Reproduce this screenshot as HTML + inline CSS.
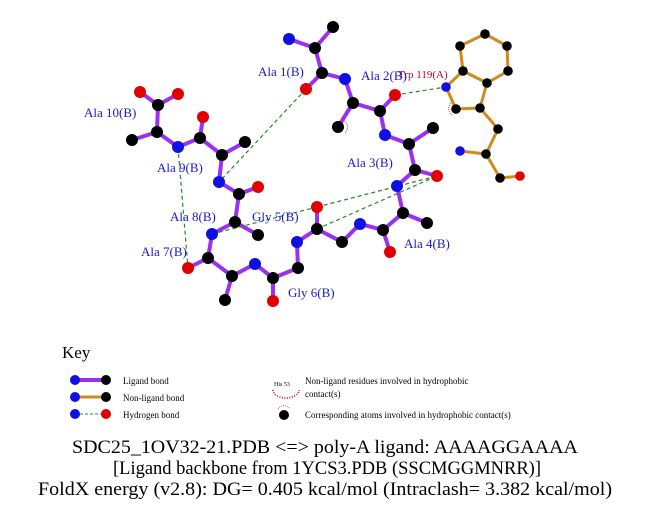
<!DOCTYPE html>
<html><head><meta charset="utf-8"><style>
html,body{margin:0;padding:0;background:#fff}
svg{display:block}
</style></head><body>
<svg width="651" height="511" viewBox="0 0 651 511" xmlns="http://www.w3.org/2000/svg" font-family="Liberation Serif, serif">
<g stroke="#9a30f0" stroke-width="4" stroke-linecap="round" fill="none">
<polyline points="140,92 158,105 178,94"/>
<polyline points="158,105 157,132 132,140"/>
<polyline points="157,132 178,147 200,138 203,117"/>
<polyline points="200,138 222,155 245,142"/>
<polyline points="222,155 219,182 239,194 258,187"/>
<polyline points="239,194 235,222 258,235"/>
<polyline points="235,222 212,234 208,258 188,268"/>
<polyline points="208,258 232,276 225,300"/>
<polyline points="232,276 255,264 273,278 273,301"/>
<polyline points="273,278 298,268 297,242 317,229 317,207"/>
<polyline points="317,229 342,242 360,224 383,230 390,252"/>
<polyline points="383,230 403,213 427,223"/>
<polyline points="403,213 397,186 415,170 437,176"/>
<polyline points="415,170 409,144 433,128"/>
<polyline points="409,144 385,135 380,111 395,95"/>
<polyline points="380,111 353,103 338,127"/>
<polyline points="353,103 345,79 322,73 306,89"/>
<polyline points="322,73 315,48 333,27"/>
<polyline points="315,48 289,39"/>
</g>
<g stroke="#d08b1c" stroke-width="3" fill="none" stroke-linejoin="round">
<polygon points="463,71 460,46 485,34 507,46 508,71 487,83"/>
<polyline points="463,71 446,87 456,109 480,108 487,83"/>
<polyline points="480,108 498,129 486,154 460,151"/>
<polyline points="486,154 500,178 520,176"/>
</g>
<g stroke="#2a8a2a" stroke-width="1.2" stroke-dasharray="4,3" fill="none">
<line x1="306" y1="89" x2="219" y2="182"/>
<line x1="395" y1="95" x2="446" y2="87"/>
<line x1="178" y1="147" x2="188" y2="268"/>
<line x1="212" y1="234" x2="317" y2="207"/>
<line x1="317" y1="207" x2="437" y2="176"/>
<line x1="317" y1="229" x2="437" y2="176"/>
</g>
<g stroke="#d44" stroke-width="1" fill="none" stroke-dasharray="1,1">
<path d="M343,120 a8,8 0 0 1 2,13" />
<path d="M452,102 a8,8 0 0 0 0,13" />
</g>
<g fill="#000">
<circle cx="158" cy="105" r="6"/><circle cx="157" cy="132" r="6"/><circle cx="132" cy="140" r="6"/>
<circle cx="200" cy="138" r="6"/><circle cx="222" cy="155" r="6"/><circle cx="245" cy="142" r="6"/>
<circle cx="239" cy="194" r="6"/><circle cx="235" cy="222" r="6"/><circle cx="258" cy="235" r="6"/>
<circle cx="208" cy="258" r="6"/><circle cx="232" cy="276" r="6"/><circle cx="225" cy="300" r="6"/>
<circle cx="273" cy="278" r="6"/><circle cx="298" cy="268" r="6"/><circle cx="317" cy="229" r="6"/>
<circle cx="342" cy="242" r="6"/><circle cx="383" cy="230" r="6"/><circle cx="403" cy="213" r="6"/>
<circle cx="427" cy="223" r="6"/><circle cx="415" cy="170" r="6"/><circle cx="409" cy="144" r="6"/>
<circle cx="433" cy="128" r="6"/><circle cx="380" cy="111" r="6"/><circle cx="353" cy="103" r="6"/>
<circle cx="338" cy="127" r="6"/><circle cx="322" cy="73" r="6"/><circle cx="315" cy="48" r="6"/>
<circle cx="333" cy="27" r="6"/>
<circle cx="463" cy="71" r="4.8"/><circle cx="460" cy="46" r="4.8"/><circle cx="485" cy="34" r="4.8"/>
<circle cx="507" cy="46" r="4.8"/><circle cx="508" cy="71" r="4.8"/><circle cx="487" cy="83" r="4.8"/>
<circle cx="480" cy="108" r="4.8"/><circle cx="456" cy="109" r="4.8"/><circle cx="498" cy="129" r="4.8"/>
<circle cx="486" cy="154" r="4.8"/><circle cx="500" cy="178" r="4.8"/>
</g>
<g fill="#1010e0">
<circle cx="178" cy="147" r="6"/><circle cx="219" cy="182" r="6"/><circle cx="212" cy="234" r="6"/>
<circle cx="255" cy="264" r="6"/><circle cx="297" cy="242" r="6"/><circle cx="360" cy="224" r="6"/>
<circle cx="397" cy="186" r="6"/><circle cx="385" cy="135" r="6"/><circle cx="345" cy="79" r="6"/>
<circle cx="289" cy="39" r="6"/><circle cx="446" cy="87" r="4.8"/><circle cx="460" cy="151" r="4.8"/>
</g>
<g fill="#e00000">
<circle cx="140" cy="92" r="6"/><circle cx="178" cy="94" r="6"/><circle cx="203" cy="117" r="6"/>
<circle cx="258" cy="187" r="6"/><circle cx="188" cy="268" r="6"/><circle cx="273" cy="301" r="6"/>
<circle cx="317" cy="207" r="6"/><circle cx="390" cy="252" r="6"/><circle cx="437" cy="176" r="6"/>
<circle cx="395" cy="95" r="6"/><circle cx="306" cy="89" r="6"/><circle cx="520" cy="176" r="4.8"/>
</g>
<text x="398" y="78" font-size="11" fill="#c00020">Trp 119(A)</text>
<g font-size="13" fill="#1a1acc">
<text x="84" y="117">Ala 10(B)</text>
<text x="258" y="76">Ala 1(B)</text>
<text x="361" y="80">Ala 2(B)</text>
<text x="347" y="167">Ala 3(B)</text>
<text x="404" y="248">Ala 4(B)</text>
<text x="252" y="221">Gly 5(B)</text>
<text x="288" y="297">Gly 6(B)</text>
<text x="141" y="256">Ala 7(B)</text>
<text x="170" y="221">Ala 8(B)</text>
<text x="157" y="172">Ala 9(B)</text>
</g>
<text x="62" y="358" font-size="17">Key</text>
<line x1="75" y1="380" x2="106" y2="380" stroke="#9a30f0" stroke-width="4"/>
<circle cx="75" cy="380" r="5" fill="#1010e0"/><circle cx="106" cy="380" r="5" fill="#000"/>
<line x1="75" y1="397" x2="106" y2="397" stroke="#d08b1c" stroke-width="3"/>
<circle cx="75" cy="397" r="5" fill="#1010e0"/><circle cx="106" cy="397" r="5" fill="#000"/>
<line x1="75" y1="414" x2="106" y2="414" stroke="#2a8a2a" stroke-width="1" stroke-dasharray="3,2"/>
<circle cx="75" cy="414" r="5" fill="#1010e0"/><circle cx="106" cy="414" r="5" fill="#e00000"/>
<g font-size="9">
<text x="123" y="384">Ligand bond</text>
<text x="123" y="401">Non-ligand bond</text>
<text x="123" y="418">Hydrogen bond</text>
<text x="305" y="384">Non-ligand residues involved in hydrophobic</text>
<text x="305" y="397">contact(s)</text>
<text x="305" y="418">Corresponding atoms involved in hydrophobic contact(s)</text>
<text x="274" y="386" font-size="6">His 53</text>
</g>
<path d="M273,390 a13,8 0 0 0 26,0" stroke="#c33" stroke-width="2" fill="none" stroke-dasharray="1,1.5"/>
<circle cx="284" cy="415" r="5" fill="#000"/>
<path d="M278,409 a7,7 0 0 1 12,0" stroke="#c33" stroke-width="0.8" fill="none" stroke-dasharray="1,1"/>
<g font-size="19">
<text x="72" y="453" textLength="506" lengthAdjust="spacingAndGlyphs">SDC25_1OV32-21.PDB &lt;=&gt; poly-A ligand: AAAAGGAAAA</text>
<text x="113" y="474" textLength="428" lengthAdjust="spacingAndGlyphs">[Ligand backbone from 1YCS3.PDB (SSCMGGMNRR)]</text>
<text x="38" y="495" textLength="574" lengthAdjust="spacingAndGlyphs">FoldX energy (v2.8): DG= 0.405 kcal/mol (Intraclash= 3.382 kcal/mol)</text>
</g>
</svg>
</body></html>
